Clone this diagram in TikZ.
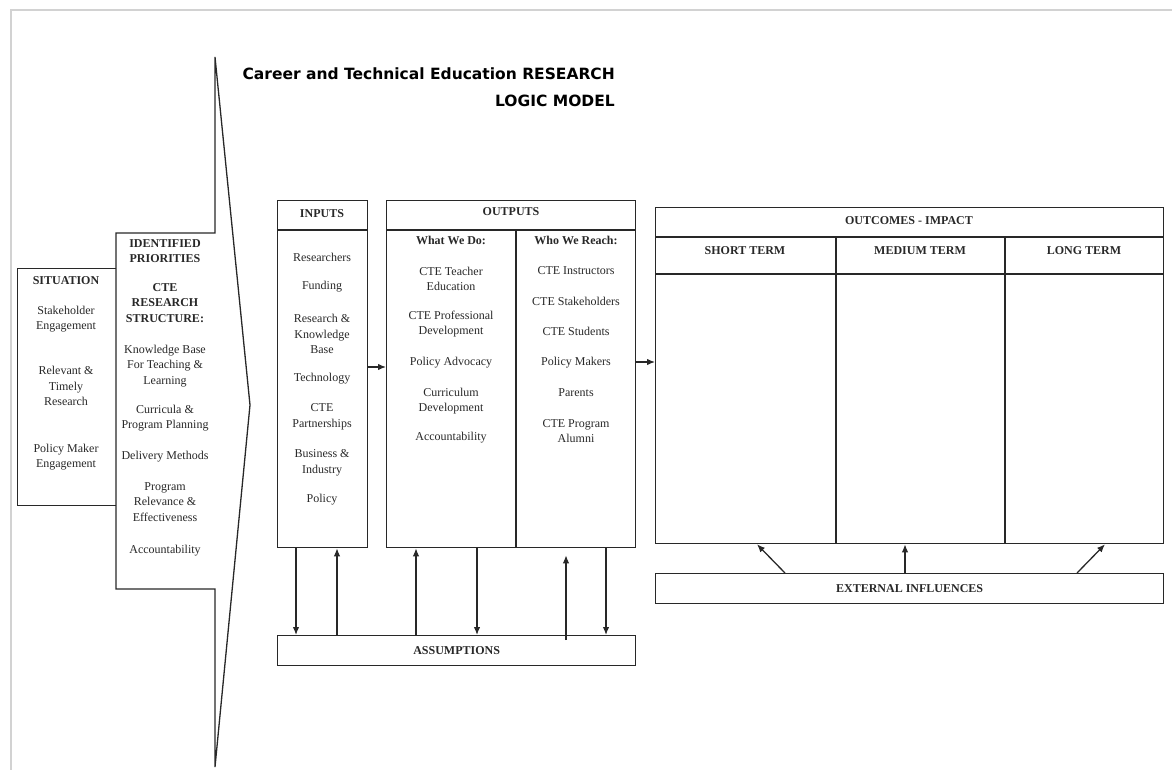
\documentclass[tikz,border=0pt]{standalone}
\usepackage{fontspec}
\setmainfont{Liberation Serif}
\newfontfamily\titlefont{DejaVu Sans}
\usetikzlibrary{arrows.meta,positioning,calc}
\definecolor{ink}{RGB}{40,40,40}
\tikzset{
  >={Latex[length=8pt,width=6.5pt]},
  every node/.style={font=\fontsize{12}{15.5}\selectfont,inner sep=0pt,align=center,text=ink},
  frame/.style={draw=ink,line width=1.3pt},
  box/.style={frame,anchor=north west},
  hd/.style={font=\fontsize{12}{15.5}\selectfont\bfseries},
  ttl/.style={font=\titlefont\fontsize{15.5}{18}\selectfont\bfseries,anchor=east,text=black},
  link/.style={->,draw=ink,line width=1.3pt},
}

\begin{document}
\begin{tikzpicture}[x=1pt,y=1pt]
  \useasboundingbox (0,0) rectangle (1172,-770);
  % screenshot frame
  \draw[gray!35,line width=1.5pt] (11,-770) -- (11,-10) -- (1172,-10);

  % title
  \node[ttl] (title1) at (615,-74)  {Career and Technical Education RESEARCH};
  \node[ttl] (title2) at (615,-101) {LOGIC MODEL};

  % situation + priorities chevron
  \node[box,minimum width=99,minimum height=237] (situation) at (17,-268) {};
  \draw[frame,fill=white] (116,-233) -- (215,-233) -- (215,-57) -- (250,-405)
    -- (215,-767) -- (215,-589) -- (116,-589) -- cycle;

  \node[hd] (sit) at (66,-281) {SITUATION};
  \node (s1) at (66,-319) {Stakeholder\\Engagement};
  \node (s2) at (66,-386) {Relevant \&\\Timely\\Research};
  \node (s3) at (66,-457) {Policy Maker\\Engagement};

  \node[hd] (pri) at (165,-251) {IDENTIFIED\\PRIORITIES};
  \node[hd] (pr0) at (165,-303) {CTE\\RESEARCH\\STRUCTURE:};
  \node (pr1) at (165,-366) {Knowledge Base\\For Teaching \&\\Learning};
  \node (pr2) at (165,-418) {Curricula \&\\Program Planning};
  \node (pr3) at (165,-457) {Delivery Methods};
  \node (pr4) at (165,-502) {Program\\Relevance \&\\Effectiveness};
  \node (pr5) at (165,-551) {Accountability};

  % inputs
  \node[box,minimum width=90,minimum height=347] (inputs) at (277,-200) {};
  \draw[frame] (inputs.west |- 0,-230) -- (inputs.east |- 0,-230);
  \node[hd] (inh) at (322,-214) {INPUTS};
  \node (in1) at (322,-257) {Researchers};
  \node (in2) at (322,-287) {Funding};
  \node (in3) at (322,-334) {Research \&\\Knowledge\\Base};
  \node (in4) at (322,-379) {Technology};
  \node (in5) at (322,-417) {CTE\\Partnerships};
  \node (in6) at (322,-463) {Business \&\\Industry};
  \node (in7) at (322,-500) {Policy};

  % outputs
  \node[box,minimum width=249,minimum height=347] (outputs) at (386,-200) {};
  \draw[frame] (outputs.west |- 0,-230) -- (outputs.east |- 0,-230);
  \draw[frame] (516,-230) -- (outputs.south -| 516,0);
  \node[hd] (outh) at (511,-212) {OUTPUTS};
  \node[hd] (doh) at (451,-240) {What We Do:};
  \node (do1) at (451,-279) {CTE Teacher\\Education};
  \node (do2) at (451,-324) {CTE Professional\\Development};
  \node (do3) at (451,-363) {Policy Advocacy};
  \node (do4) at (451,-401) {Curriculum\\Development};
  \node (do5) at (451,-438) {Accountability};
  \node[hd] (reh) at (576,-240) {Who We Reach:};
  \node (re1) at (576,-271) {CTE Instructors};
  \node (re2) at (576,-301) {CTE Stakeholders};
  \node (re3) at (576,-331) {CTE Students};
  \node (re4) at (576,-363) {Policy Makers};
  \node (re5) at (576,-393) {Parents};
  \node (re6) at (576,-431) {CTE Program\\Alumni};

  % outcomes
  \node[box,minimum width=508,minimum height=336] (outcomes) at (655,-207) {};
  \draw[frame] (outcomes.west |- 0,-237) -- (outcomes.east |- 0,-237);
  \draw[frame] (outcomes.west |- 0,-274) -- (outcomes.east |- 0,-274);
  \draw[frame] (836,-237) -- (outcomes.south -| 836,0);
  \draw[frame] (1005,-237) -- (outcomes.south -| 1005,0);
  \node[hd] (outch) at (909,-221) {OUTCOMES - IMPACT};
  \node[hd] (st) at (745,-251) {SHORT TERM};
  \node[hd] (mt) at (920,-251) {MEDIUM TERM};
  \node[hd] (lt) at (1084,-251) {LONG TERM};

  % bottom bars
  \node[box,minimum width=508,minimum height=30] (extinf) at (655,-573) {};
  \node[hd] at (extinf.center) {EXTERNAL INFLUENCES};
  \node[box,minimum width=358,minimum height=30] (assume) at (277,-635) {};
  \node[hd] at (assume.center) {ASSUMPTIONS};

  % flow arrows
  \draw[link] (inputs.east |- 0,-367) -- (outputs.west |- 0,-367);
  \draw[link] (outputs.east |- 0,-362) -- (outcomes.west |- 0,-362);

  \draw[link] (inputs.south -| 296,0) -- (assume.north -| 296,0);
  \draw[link] (assume.north -| 337,0) -- (inputs.south -| 337,0);
  \draw[link] (assume.north -| 416,0) -- (outputs.south -| 416,0);
  \draw[link] (outputs.south -| 477,0) -- (assume.north -| 477,0);
  \draw[link] ([yshift=-5pt]assume.north -| 566,0) -- ([yshift=-7pt]outputs.south -| 566,0);
  \draw[link] (outputs.south -| 606,0) -- (assume.north -| 606,0);

  \draw[link] (extinf.north -| 785,0) -- (outcomes.south -| 757,0);
  \draw[link] (extinf.north -| 905,0) -- (outcomes.south -| 905,0);
  \draw[link] (extinf.north -| 1077,0) -- (outcomes.south -| 1105,0);
\end{tikzpicture}
\end{document}
